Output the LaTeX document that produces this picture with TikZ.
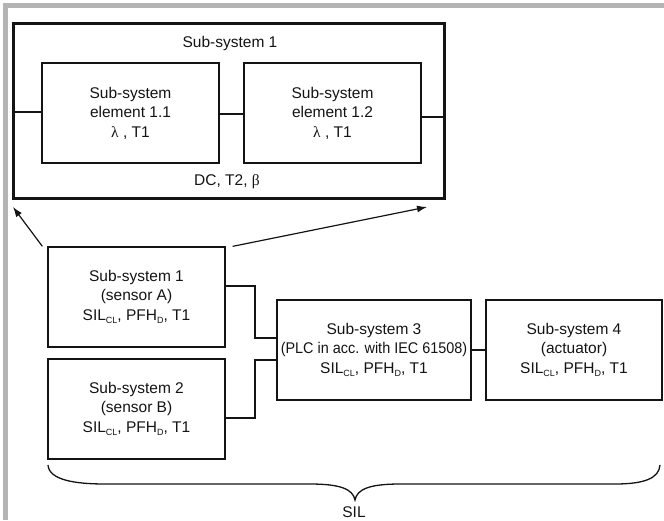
\documentclass[tikz,border=0pt]{standalone}
\usepackage{fontspec}
\setmainfont{Liberation Sans}
\newfontfamily\greekfont{Liberation Serif}
\usetikzlibrary{arrows.meta}
\newcommand{\lowsub}[1]{\raisebox{-0.45ex}{\fontsize{9}{9}\selectfont #1}}
\newcommand{\gr}[1]{{\greekfont #1}}
\definecolor{framegray}{HTML}{B4B4B4}
\definecolor{ink}{HTML}{141414}
\begin{document}
\begin{tikzpicture}[x=1pt,y=-1pt,
  every node/.style={font=\fontsize{15.5}{19.5}\selectfont, text=ink},
  blockbox/.style={draw=ink, line width=1.3pt, rectangle, inner sep=0pt,
    align=center, minimum width=177pt, minimum height=100pt},
  label/.style={inner sep=0pt, align=center},
  wire/.style={draw=ink, line width=1.3pt},
  pointer/.style={draw=ink, line width=1.2pt, -{Latex[length=10pt,width=7pt]}}]
\useasboundingbox (0,0) rectangle (664,520);
\fill[white] (0,0) rectangle (664,520);
% grey page frame (top and left edges)
\fill[framegray] (3,3) rectangle (664,8);
\fill[framegray] (3,3) rectangle (8,520);

% detailed view of sub-system 1
\node[draw=ink, line width=3pt, rectangle, inner sep=0pt,
  minimum width=431pt, minimum height=175pt] (big) at (228.5,110.5) {};
\node[label] (bigtitle) at (230,43) {Sub-system 1};
\node[blockbox] (e11) at (130.5,113) {Sub-system\\element 1.1\\\gr{λ} , T1};
\node[blockbox] (e12) at (332.5,113) {Sub-system\\element 1.2\\\gr{λ} , T1};
\node[label] (bigfoot) at (227,182) {DC, T2, \gr{β}};
\draw[wire] ([yshift=1pt]e11.west) -- ([yshift=1pt]e11.west -| big.west);
\draw[wire] ([yshift=-1pt]e11.east) -- ([yshift=-1pt]e11.east -| e12.west);
\draw[wire] ([yshift=-4pt]e12.east) -- ([yshift=-4pt]e12.east -| big.east);

% sub-system chain
\node[blockbox] (sA) at (136.5,297) {Sub-system 1\\(sensor A)\\SIL\lowsub{CL}, PFH\lowsub{D}, T1};
\node[blockbox] (sB) at (136.5,409) {Sub-system 2\\(sensor B)\\SIL\lowsub{CL}, PFH\lowsub{D}, T1};
\node[blockbox, minimum width=194pt] (s3) at (374,350)
  {Sub-system 3\\\scalebox{0.93}[1]{(PLC in acc. with IEC 61508)}\\SIL\lowsub{CL}, PFH\lowsub{D}, T1};
\node[blockbox, minimum width=176pt] (s4) at (574,350) {Sub-system 4\\(actuator)\\SIL\lowsub{CL}, PFH\lowsub{D}, T1};

\coordinate (jn) at (255,350);
\draw[wire] ([yshift=11pt]sA.east) -| ([yshift=12pt]jn) -- ([yshift=12pt]s3.west);
\draw[wire] ([yshift=-9pt]sB.east) -| ([yshift=-10pt]jn) -- ([yshift=-10pt]s3.west);
\draw[wire] (s3.east) -- (s4.west);

% pointers to the detailed view
\coordinate (tipL) at (13,207);
\coordinate (tipR) at (427,207);
\draw[pointer] ([xshift=-5pt]sA.north west) -- (tipL);
\draw[pointer] ([xshift=7pt]sA.north east) -- (tipR);

% brace spanning the whole chain
\coordinate (bL) at (48,465);
\coordinate (bM) at (355,500);
\coordinate (bR) at (660,465);
\draw[ink, line width=1.3pt]
  (bL) .. controls (49,480) and (75,484) .. (105,484)
  -- (310,484) .. controls (340,484) and (353,489) .. (bM)
  .. controls (357,489) and (370,484) .. (400,484)
  -- (615,484) .. controls (645,484) and (659,478) .. (bR);
\node[label] (sil) at (354,512) {SIL};
\end{tikzpicture}
\end{document}
